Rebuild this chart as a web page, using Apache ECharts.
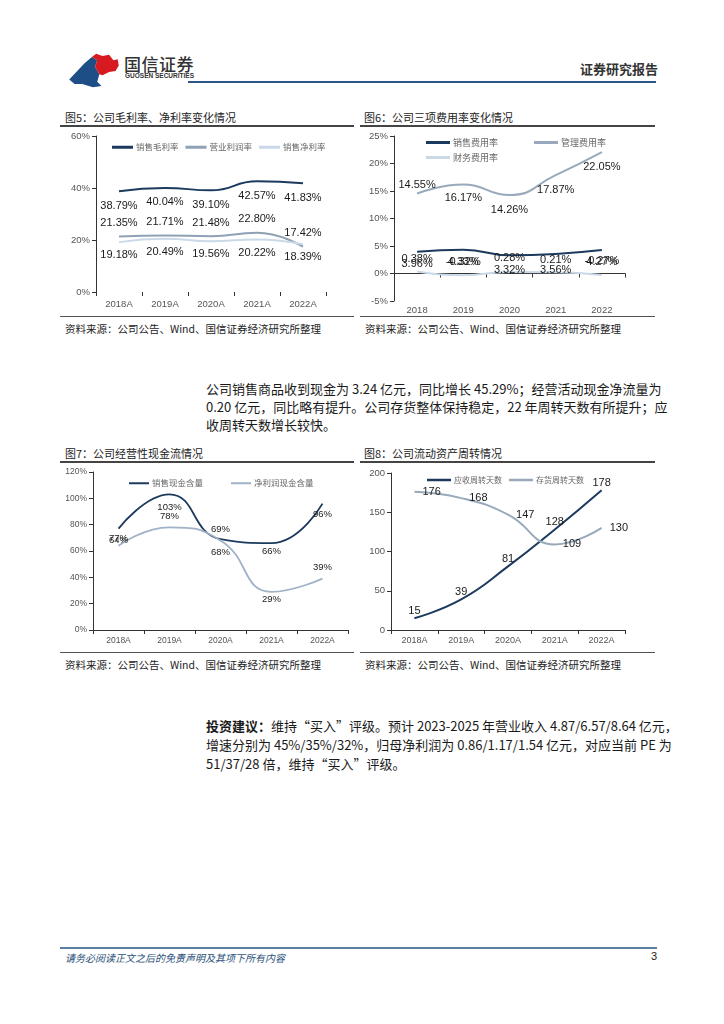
<!DOCTYPE html>
<html><head><meta charset="utf-8">
<script src="https://cdn.jsdelivr.net/npm/echarts@6/dist/echarts.min.js"></script>
<style>
body{margin:0;width:724px;height:1024px;background:#fff;position:relative;font-family:"Noto Sans CJK SC","Noto Sans",sans-serif;color:#222;overflow:hidden}
.abs{position:absolute;white-space:nowrap}
.title{font-size:11px;color:#222}
.rule{position:absolute;height:1.5px;background:#444}
.src{font-size:10.5px;color:#222}
.p{position:absolute;left:206px;width:450px;font-size:13px;line-height:18px;white-space:nowrap;text-align:justify;text-align-last:justify;color:#1a1a1a}
.p.last{text-align-last:left}
.chart{position:absolute}
</style></head><body>
<!-- header -->
<svg class="abs" style="left:66px;top:50px" width="56" height="42" viewBox="0 0 52 38">
<path d="M3,27 L17,12 L24,6 L29,9 L27,15 L31,22 L29,29 L33,33 L25,34 L15,31 L8,31 Z" fill="#1d4f86"/>
<path d="M24,6 L28,3 L34,5 L40,4 L44,9 L48,8 L49,14 L46,19 L40,20 L34,23 L31,22 L27,15 L29,9 Z" fill="#d71920"/>
</svg>
<div class="abs" style="left:124px;top:51px;font-size:17px;font-weight:500;color:#333;letter-spacing:0.5px">国信证券</div>
<div class="abs" style="left:125px;top:72px;font-size:6.5px;font-weight:700;color:#333;font-family:'Liberation Sans',sans-serif">GUOSEN SECURITIES</div>
<div class="abs" style="left:580px;top:59px;font-size:13px;font-weight:700;color:#333">证券研究报告</div>
<div class="abs" style="left:188px;top:81px;width:468px;height:2px;background:#2b5687"></div>

<!-- chart titles top -->
<div class="abs title" style="left:65px;top:109px">图5：公司毛利率、净利率变化情况</div>
<div class="rule" style="left:60px;top:125px;width:294px"></div>
<div class="abs title" style="left:364px;top:109px">图6：公司三项费用率变化情况</div>
<div class="rule" style="left:360px;top:125px;width:295px"></div>
<div class="chart" id="c5" style="left:60px;top:128px;width:295px;height:187px"></div>
<div class="chart" id="c6" style="left:360px;top:128px;width:295px;height:187px"></div>
<div class="rule" style="left:60px;top:316px;width:294px;height:1px;background:#555"></div>
<div class="rule" style="left:360px;top:316px;width:295px;height:1px;background:#555"></div>
<div class="abs src" style="left:65px;top:321px">资料来源：公司公告、Wind、国信证券经济研究所整理</div>
<div class="abs src" style="left:365px;top:321px">资料来源：公司公告、Wind、国信证券经济研究所整理</div>

<!-- paragraph 1 -->
<div class="p" style="top:380px">公司销售商品收到现金为 3.24 亿元，同比增长 45.29%；经营活动现金净流量为</div>
<div class="p" style="top:398px">0.20 亿元，同比略有提升。公司存货整体保持稳定，22 年周转天数有所提升；应</div>
<div class="p last" style="top:416px">收周转天数增长较快。</div>

<!-- chart titles bottom -->
<div class="abs title" style="left:65px;top:445px">图7：公司经营性现金流情况</div>
<div class="rule" style="left:60px;top:461px;width:294px"></div>
<div class="abs title" style="left:364px;top:445px">图8：公司流动资产周转情况</div>
<div class="rule" style="left:360px;top:461px;width:295px"></div>
<div class="chart" id="c7" style="left:60px;top:463px;width:295px;height:189px"></div>
<div class="chart" id="c8" style="left:360px;top:463px;width:295px;height:189px"></div>
<div class="rule" style="left:60px;top:652px;width:294px;height:1px;background:#555"></div>
<div class="rule" style="left:360px;top:652px;width:295px;height:1px;background:#555"></div>
<div class="abs src" style="left:65px;top:657px">资料来源：公司公告、Wind、国信证券经济研究所整理</div>
<div class="abs src" style="left:365px;top:657px">资料来源：公司公告、Wind、国信证券经济研究所整理</div>

<!-- paragraph 2 -->
<div class="p" style="top:717px"><b>投资建议：</b>维持“买入”评级。预计 2023-2025 年营业收入 4.87/6.57/8.64 亿元，</div>
<div class="p" style="top:736px">增速分别为 45%/35%/32%，归母净利润为 0.86/1.17/1.54 亿元，对应当前 PE 为</div>
<div class="p last" style="top:755px">51/37/28 倍，维持“买入”评级。</div>

<!-- footer -->
<div class="abs" style="left:60px;top:947px;width:597px;height:1.5px;background:#5a7fa3"></div>
<div class="abs" style="left:65px;top:950px;font-size:10px;font-style:italic;color:#2b4f7a">请务必阅读正文之后的免责声明及其项下所有内容</div>
<div class="abs" style="left:651px;top:950px;font-size:11px;color:#222;font-family:'Liberation Sans',sans-serif">3</div>

<script>
// ---------- data ----------
const years5 = ['2018A','2019A','2020A','2021A','2022A'];
const grossMargin = [38.79, 40.04, 39.10, 42.57, 41.83];
const operatingMargin = [21.35, 21.71, 21.48, 22.80, 17.42];
const netMargin = [19.18, 20.49, 19.56, 20.22, 18.39];
const ticks5 = [0, 20, 40, 60];

const years6 = ['2018','2019','2020','2021','2022'];
const sellingExpRate = [3.96, 4.33, 3.32, 3.56, 4.27];
const adminExpRate = [14.55, 16.17, 14.26, 17.87, 22.05];
const financeExpRate = [0.38, -0.32, 0.28, 0.21, -0.27];
const ticks6 = [-5, 0, 5, 10, 15, 20, 25];

const years7 = ['2018A','2019A','2020A','2021A','2022A'];
const salesCashRatio = [77, 103, 69, 66, 96];
const profitCashRatio = [64, 78, 68, 29, 39];
const ticks7 = [0, 20, 40, 60, 80, 100, 120];

const years8 = ['2018A','2019A','2020A','2021A','2022A'];
const receivableDays = [15, 39, 81, 128, 178];
const inventoryDays = [176, 168, 147, 109, 130];
const ticks8 = [0, 50, 100, 150, 200];

// ---------- styling helpers ----------
const C_DARK = '#1c3a5e', C_MID = '#8fa1b5', C_LIGHT = '#c9d9e8';
const NUM_FONT = '"Liberation Sans", Arial, sans-serif';

function withLabels(vals, pos, dist){
  return vals.map((v,i)=>({value:v, label:{position:pos[i], distance:dist[i]}}));
}
function yAxis(ticks, suffix, fs){
  return {type:'value', min:ticks[0], max:ticks[ticks.length-1], interval:ticks[1]-ticks[0],
    axisLine:{show:true, lineStyle:{color:'#333', width:1}},
    axisTick:{show:true, length:4, lineStyle:{color:'#333'}},
    splitLine:{show:false},
    axisLabel:{fontSize:fs||9.5, color:'#555', fontFamily:NUM_FONT, margin:6, formatter: v => v + suffix}};
}
function xAxis(cats, showLine, margin, fs){
  return {type:'category', data:cats, boundaryGap:true,
    axisLine:{show:showLine, lineStyle:{color:'#333', width:1}},
    axisTick:{show:true, length:4, lineStyle:{color:'#333'}},
    axisLabel:{fontSize:fs||9.5, color:'#555', fontFamily:NUM_FONT, margin:margin}};
}
function lineSeries(name, data, color, fmt, fs, width){
  return {name, type:'line', smooth:0.5, symbol:'circle', symbolSize:0.1, showSymbol:true, data,
    lineStyle:{color, width:width||2}, itemStyle:{color},
    labelLayout:{hideOverlap:false},
    label:{show:true, fontSize:fs||11, color:'#1a1a1a', fontFamily:NUM_FONT, formatter: p => fmt(p.value)}};
}
const legendText = fs => ({fontSize:fs, color:'#666', fontFamily:'"Noto Sans CJK SC", sans-serif', padding:[0,0,0,-2]});
const pct2 = v => v.toFixed(2) + '%';
const pct0 = v => v + '%';
const num = v => String(v);
const same = (p, n) => Array(n).fill(p);

// ---------- chart 5 ----------
const c5 = echarts.init(document.getElementById('c5'));
c5.setOption({
  animation:false,
  grid:{left:36, top:8, width:230, height:156},
  legend:{left:47, top:10, width:260, itemWidth:21, itemHeight:3, itemGap:7, icon:'rect', textStyle:legendText(8.5),
    data:['销售毛利率','营业利润率','销售净利率']},
  xAxis: xAxis(years5, false, 7),
  yAxis: yAxis(ticks5, '%'),
  series:[
    lineSeries('销售毛利率', withLabels(grossMargin, same('bottom',5), same(9,5)), C_DARK, pct2),
    lineSeries('营业利润率', withLabels(operatingMargin, same('top',5), same(8,5)), C_MID, pct2),
    lineSeries('销售净利率', withLabels(netMargin, same('bottom',5), same(7.5,5)), C_LIGHT, pct2)
  ]
});

// ---------- chart 6 ----------
const c6 = echarts.init(document.getElementById('c6'));
c6.setOption({
  animation:false,
  grid:{left:34, top:8, width:231, height:167},
  legend:[
    {left:61, top:5, itemWidth:24, itemHeight:3, itemGap:36, icon:'rect', textStyle:legendText(9), data:['销售费用率','管理费用率']},
    {left:61, top:20, itemWidth:24, itemHeight:3, icon:'rect', textStyle:legendText(9), data:['财务费用率']}
  ],
  xAxis: xAxis(years6, true, 4),
  yAxis: yAxis(ticks6, '%'),
  series:[
    lineSeries('销售费用率', withLabels(sellingExpRate, same('bottom',5), [7,6.5,9,10,6.5]), C_DARK, pct2),
    lineSeries('管理费用率', withLabels(adminExpRate, ['top','bottom','bottom','bottom','bottom'], [3,7.5,9,9,9.5]), '#98a9bc', pct2),
    lineSeries('财务费用率', withLabels(financeExpRate, same('top',5), [6.5,8,8,7,8]), C_LIGHT, pct2)
  ]
});

// ---------- chart 7 ----------
const c7 = echarts.init(document.getElementById('c7'));
c7.setOption({
  animation:false,
  grid:{left:33, top:9, width:255, height:158},
  legend:{left:64, top:11, itemWidth:20, itemHeight:2, itemGap:28, icon:'rect', textStyle:legendText(8.5),
    data:['销售现金含量','净利润现金含量']},
  xAxis: xAxis(years7, true, 6, 8.5),
  yAxis: yAxis(ticks7, '%', 8.5),
  series:[
    lineSeries('销售现金含量', withLabels(salesCashRatio, ['bottom','bottom','top','bottom','bottom'], [4.5,7.5,4.5,3.5,5.5]), C_DARK, pct0, 9.5, 1.8),
    lineSeries('净利润现金含量', withLabels(profitCashRatio, ['top','top','bottom','bottom','top'], [0,5.5,6.5,2.5,6.5]), '#9fb2c6', pct0, 9.5, 1.8)
  ]
});

// ---------- chart 8 ----------
const c8 = echarts.init(document.getElementById('c8'));
c8.setOption({
  animation:false,
  grid:{left:31, top:10, width:234, height:157},
  legend:{left:62, top:8, itemWidth:24, itemHeight:2.5, itemGap:7, icon:'rect', textStyle:legendText(8),
    data:['应收周转天数','存货周转天数']},
  xAxis: xAxis(years8, true, 6, 9),
  yAxis: yAxis(ticks8, ''),
  series:[
    lineSeries('应收周转天数', withLabels(receivableDays, same('top',5), same(2,5)), C_DARK, num),
    lineSeries('存货周转天数', withLabels(inventoryDays, same('right',5), same(8,5)), '#98a9bc', num)
  ]
});
</script>
</body></html>
